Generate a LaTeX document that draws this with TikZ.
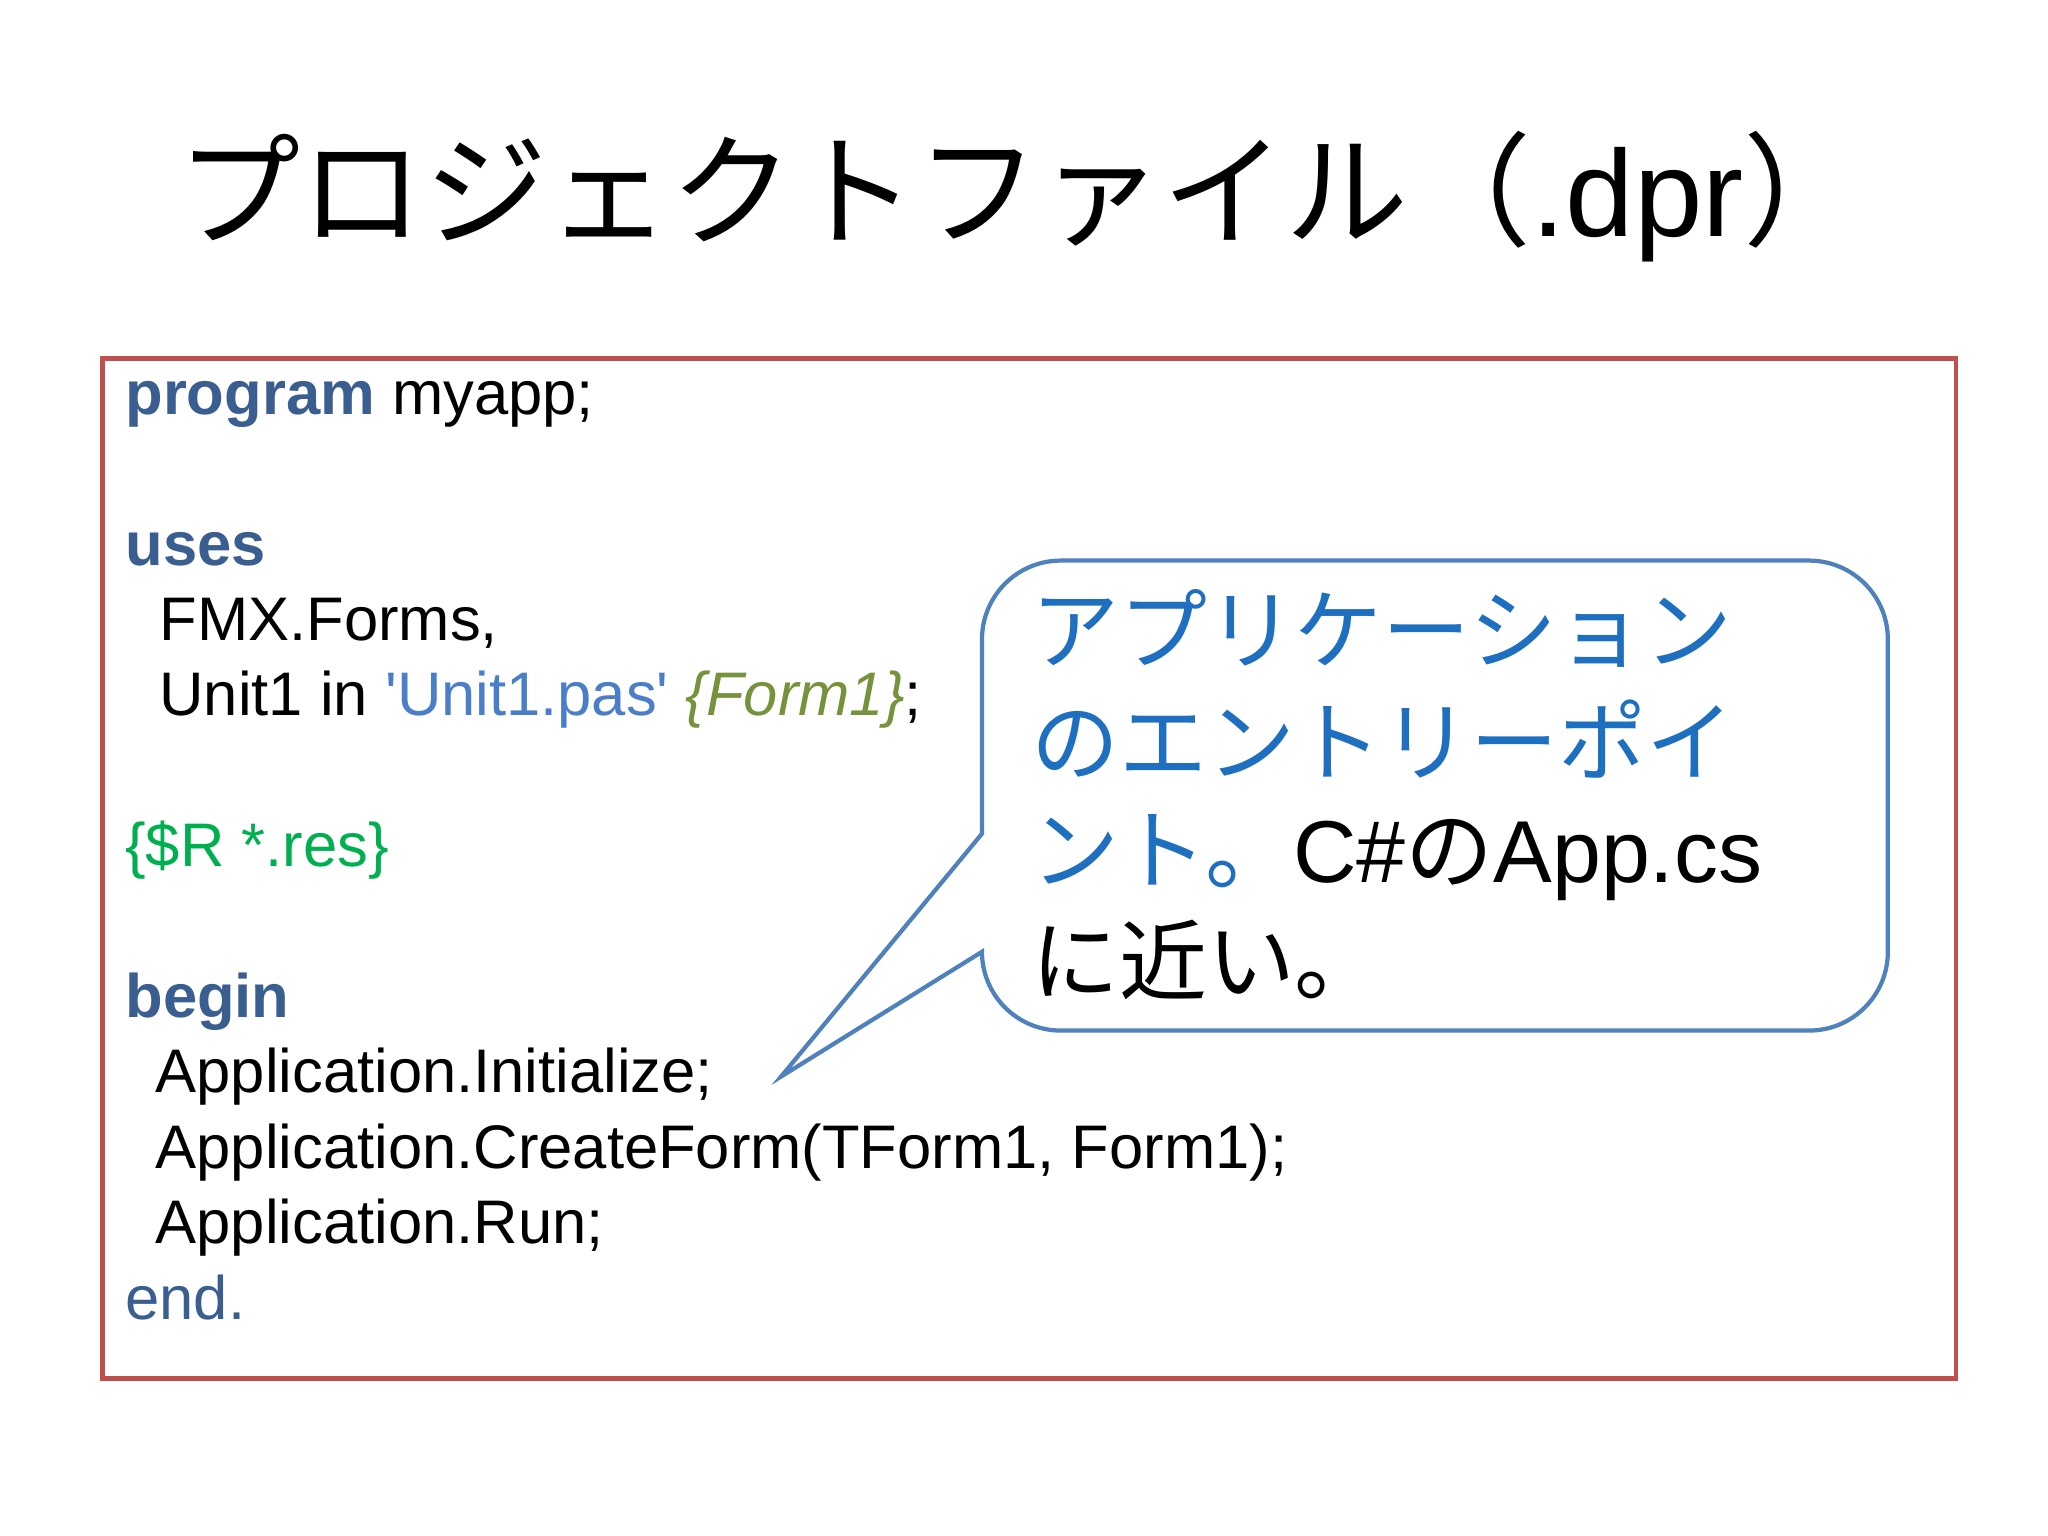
\documentclass[tikz,border=0pt]{standalone}
\usepackage{fontspec}
\setmainfont{Liberation Sans}
\newfontfamily\cjk{Noto Sans CJK JP}
\newfontfamily\cjktitle[LetterSpace=0]{Noto Sans CJK JP}
\definecolor{kw}{HTML}{3B5E91}
\definecolor{str}{HTML}{4A7EC8}
\definecolor{cmt}{HTML}{76923C}
\definecolor{dir}{HTML}{00B050}
\definecolor{frame}{HTML}{C0504D}
\definecolor{call}{HTML}{4F81BD}
\definecolor{jblue}{HTML}{1F6FC0}
\begin{document}
\begin{tikzpicture}[x=0.013128cm,y=-0.013128cm,
  code/.style={anchor=base west,inner sep=0,font=\fontsize{17.5}{21}\selectfont},
  jp/.style={anchor=base west,inner sep=0,font=\fontsize{25}{31}\selectfont}]
\useasboundingbox (0,0) rectangle (1560,1170);
\fill[white] (0,0) rectangle (1560,1170);
\node[anchor=base west,inner sep=0,font=\fontsize{35}{40}\selectfont] (title) at (135,180) {{\cjktitle プロジェクトファイル}{\cjk （}.dpr{\cjk ）}};
\draw[frame,line width=1.3pt] (78,273) rectangle (1490,1050);
\node[code] (l1) at (95,316) {\textbf{\color{kw}program} myapp;};
\node[code] (l2) at (95,431) {\textbf{\color{kw}uses}};
\node[code] (l3) at (121,488) {FMX.Forms,};
\node[code] (l4) at (121,545) {Unit1 in {\color{str}\textquotesingle Unit1.pas\textquotesingle} {\color{cmt}\itshape\{Form1\}};};
\node[code] (l5) at (95,660) {\color{dir}\{\$R *.res\}};
\node[code] (l6) at (95,775) {\textbf{\color{kw}begin}};
\node[code] (l7) at (118,832) {Application.Initialize;};
\node[code] (l8) at (118,890) {Application.CreateForm(TForm1, Form1);};
\node[code] (l9) at (118,947) {Application.Run;};
\node[code] (l10) at (95,1005) {\color{kw}end.};
\coordinate (tip) at (595,820);
\draw[call,line width=1.2pt,fill=white] (748,635) -- (748,487) arc[start angle=180,end angle=270,radius=60] -- (1378,427) arc[start angle=270,end angle=360,radius=60] -- (1438,725) arc[start angle=0,end angle=90,radius=60] -- (808,785) arc[start angle=90,end angle=180,radius=60] -- (748,725) -- (tip) -- cycle;
\node[jp] (j1) at (785,505) {\cjk\color{jblue}アプリケーション};
\node[jp] (j2) at (785,590) {\cjk\color{jblue}のエントリーポイ};
\node[jp] (j3) at (785,672) {{\cjk\color{jblue}ント。}C\#{\cjk の}App.cs};
\node[jp] (j4) at (785,757) {\cjk に近い。};
\end{tikzpicture}
\end{document}
